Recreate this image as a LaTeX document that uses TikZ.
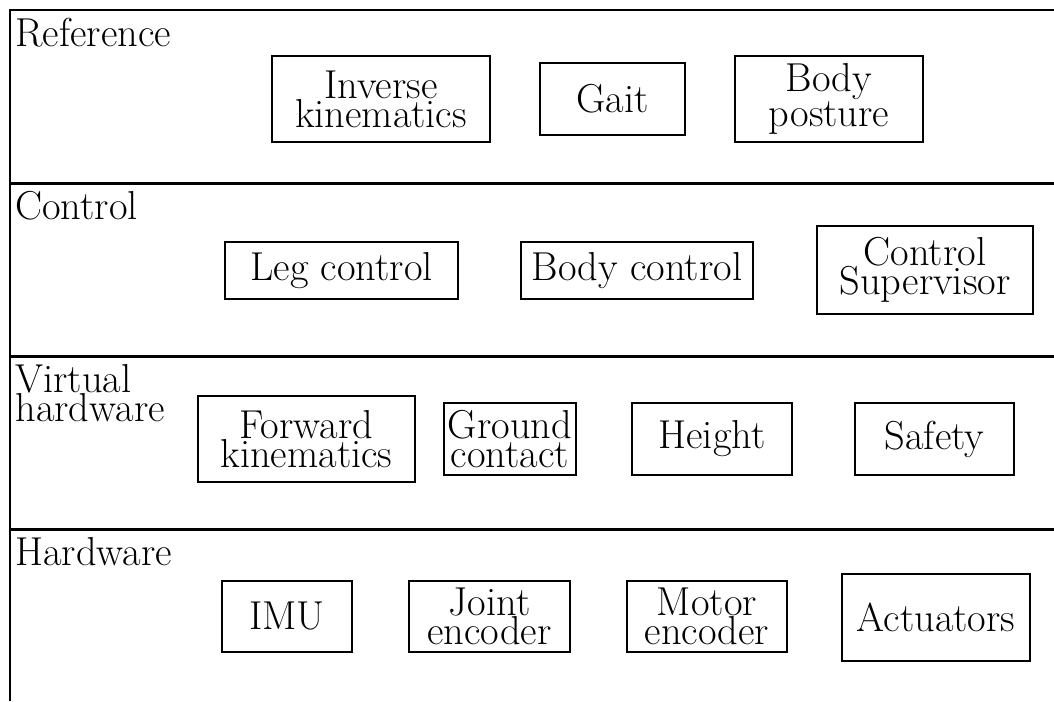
\documentclass[tikz,border=0pt]{standalone}
\begin{document}
\begin{tikzpicture}[x=0.5pt,y=-0.5pt,
  every node/.style={font={\fontsize{20.2pt}{14.5pt}\selectfont}},
  layerline/.style={line width=1.35pt},
  blk/.style={draw,line width=1pt,align=center,inner sep=0pt},
  lbl/.style={anchor=base west,align=left,inner sep=0pt}]
\useasboundingbox (0,0) rectangle (1054,701);
% layers
\draw[layerline] (1054,10) -- (10,10) -- (10,701);
\draw[layerline] (10,183.5) -- (1054,183.5);
\draw[layerline] (10,356.5) -- (1054,356.5);
\draw[layerline] (10,529.5) -- (1054,529.5);
% layer labels
\node[lbl] (lref) at (15,46.5) {Reference};
\node[lbl] (lctl) at (15,219.5) {Control};
\node[lbl] (lvh) at (15,421.5) {Virtual\\hardware};
\node[lbl] (lhw) at (15,565.5) {Hardware};
% reference
\node[blk,minimum width=109pt,minimum height=43pt] (inv) at (381,99) {Inverse\\kinematics};
\node[blk,minimum width=72.5pt,minimum height=36pt] (gait) at (612.5,99) {Gait};
\node[blk,minimum width=94pt,minimum height=43pt] (post) at (829,99) {Body\\posture};
% control
\node[blk,minimum width=116.5pt,minimum height=28.5pt] (leg) at (341.5,270.5) {Leg control};
\node[blk,minimum width=116pt,minimum height=28.5pt] (bodyc) at (637,270.5) {Body control};
\node[blk,minimum width=108pt,minimum height=44pt] (sup) at (925,270) {Control\\Supervisor};
% virtual hardware
\node[blk,minimum width=108.5pt,minimum height=43pt] (fk) at (306.5,439) {Forward\\kinematics};
\node[blk,minimum width=66pt,minimum height=36pt] (gc) at (510,439) {Ground\\contact};
\node[blk,minimum width=80pt,minimum height=36pt] (hgt) at (712,439) {Height};
\node[blk,minimum width=79.5pt,minimum height=36pt] (saf) at (934.5,439) {Safety};
% hardware
\node[blk,minimum width=65pt,minimum height=35.5pt] (imu) at (287,616.5) {IMU};
\node[blk,minimum width=80.5pt,minimum height=35.5pt] (jenc) at (489.5,616.5) {Joint\\encoder};
\node[blk,minimum width=80pt,minimum height=35.5pt] (menc) at (707,616.5) {Motor\\encoder};
\node[blk,minimum width=94pt,minimum height=43.5pt] (act) at (936,617.5) {Actuators};
\end{tikzpicture}
\end{document}
